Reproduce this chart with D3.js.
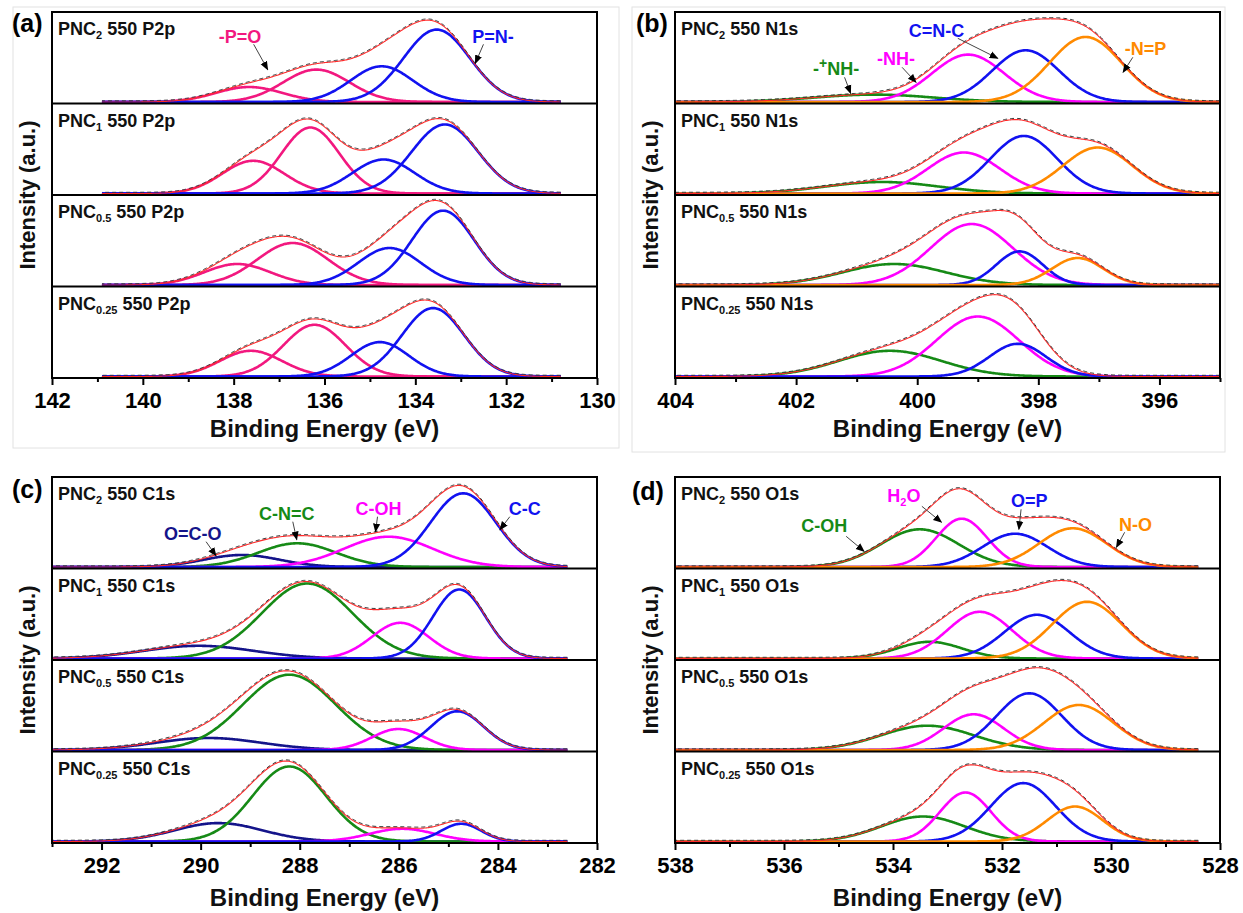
<!DOCTYPE html>
<html>
<head>
<meta charset="utf-8">
<script src="https://cdn.jsdelivr.net/npm/d3@7"></script>
<style>
  body { margin: 0; background: #fff; }
  text { font-family: "Liberation Sans", Arial, sans-serif; font-weight: bold; }
</style>
</head>
<body>
<div class="xps"></div>
<script>
// sample names (subscript part) and core levels
const samples = ["2", "1", "0.5", "0.25"];
const regions = ["P2p", "N1s", "C1s", "O1s"];
const panelTags = ["(a)", "(b)", "(c)", "(d)"];

// energy windows (eV): axis [high, low] and fitted span [start, end]
const axisRanges = [[142, 130], [404, 395], [293, 282], [538, 528]];
const fitSpans = [[140.9, 130.8], [404, 395], [293, 282.6], [538, 528.4]];

// P2p peaks: -P=O, -P=O, P=N-, P=N-   (rows = samples)
const p2pCenters = [[137.66, 136.18, 134.74, 133.53], [137.57, 136.31, 134.70, 133.35], [137.92, 136.70, 134.57, 133.39], [137.62, 136.22, 134.78, 133.61]];
const p2pHeights = [[15, 32.4, 35.7, 72.4], [32.7, 66, 34, 69], [21, 42, 37, 74.3], [25.7, 51.7, 34.4, 68.4]];
const p2pFwhm = [[1.72, 1.72, 1.61, 1.72], [1.61, 1.5, 1.61, 1.72], [1.72, 1.84, 1.61, 1.61], [1.61, 1.61, 1.5, 1.61]];

// N1s peaks: -+NH-, -NH-, C=N-C, -N=P
const n1sCenters = [[400.71, 399.16, 398.21, 397.22], [400.58, 399.23, 398.24, 397.02], [400.38, 399.10, 398.31, 397.35], [400.45, 399.00, 398.34, null]];
const n1sHeights = [[7.4, 47.4, 51.7, 65], [11.5, 41, 57.5, 46], [21, 61, 33.6, 27], [25.7, 60, 32.7, null]];
const n1sFwhm = [[2.3, 1.4, 1.3, 1.4], [2.2, 1.4, 1.3, 1.35], [2.0, 1.6, 0.9, 1.0], [2.0, 1.6, 1.1, null]];

// C1s peaks: O=C-O, C-N=C, C-OH, C-C
const c1sCenters = [[289.17, 288.05, 286.21, 284.70], [290.04, 287.85, 285.97, 284.78], [289.84, 288.21, 286.01, 284.82], [289.64, 288.21, 285.93, 284.74]];
const c1sHeights = [[12, 23.7, 30.3, 73.7], [12.7, 75, 35.7, 69], [12, 75.3, 21, 38.7], [18.4, 75, 12.7, 17.7]];
const c1sFwhm = [[1.8, 1.85, 2.1, 1.55], [2.6, 2.15, 1.35, 1.25], [2.5, 2.2, 1.25, 1.25], [2.1, 1.75, 1.55, 0.95]];

// O1s peaks: C-OH, H2O, O=P, N-O
const o1sCenters = [[533.51, 532.74, 531.76, 530.70], [533.33, 532.41, 531.36, 530.44], [533.37, 532.52, 531.50, 530.59], [533.45, 532.67, 531.61, 530.66]];
const o1sHeights = [[37.7, 48.3, 33.3, 38.7], [16.7, 46.7, 43.7, 56.7], [24.3, 35.7, 56.7, 45], [25, 49, 58.4, 35]];
const o1sFwhm = [[1.68, 1.1, 1.4, 1.46], [1.4, 1.4, 1.4, 1.5], [2.0, 1.3, 1.4, 1.5], [1.8, 1.1, 1.4, 1.2]];

// peak labels on the top sub-plot: [text, textEV, textY, arrowFromEV, arrowFromY, arrowToEV, arrowToY]
const p2pNotes = [["-P=O", 137.86, 58.7, 137.56, 57.7, 137.25, 32.4], ["P=N-", 132.29, 58.7, 132.5, 57.7, 132.68, 38.7]];
const n1sNotes = [["-+NH-", 401.34, 26.7, 401.2, 24.7, 401.1, 8.7], ["-NH-", 400.35, 36.7, 400.25, 34.7, 400.02, 19.7],
                  ["C=N-C", 399.68, 64.7, 399.33, 63.7, 398.67, 43.7], ["-N=P", 396.23, 46.7, 396.44, 44.7, 396.6, 29.7]];
const c1sNotes = [["O=C-O", 290.16, 27.3, 289.89, 25.3, 289.69, 11.3], ["C-N=C", 288.26, 47.3, 288.14, 45.3, 288.06, 27.3],
                  ["C-OH", 286.41, 52.3, 286.43, 50.3, 286.47, 35.3], ["C-C", 283.46, 52.3, 283.76, 50.3, 283.96, 37.3]];
const o1sNotes = [["C-OH", 535.26, 34.7, 534.86, 30.7, 534.53, 15.7], ["H2O", 533.8, 64.7, 533.47, 60.7, 533.11, 44.7],
                  ["O=P", 531.5, 59.7, 531.65, 57.7, 531.69, 37.7], ["N-O", 529.55, 35.7, 529.75, 34.7, 529.9, 19.7]];

const pink = "#f2187f", blue = "#1212f0", magenta = "#ff00ff", orange = "#ff8a00", green = "#168a16", navy = "#14148a";
const panelColors = [[pink, pink, blue, blue], [green, magenta, blue, orange], [navy, green, magenta, blue], [green, magenta, blue, orange]];
const noteColors = [[pink, blue], [green, magenta, blue, orange], [navy, green, magenta, blue], [green, magenta, blue, orange]];

const centers = [p2pCenters, n1sCenters, c1sCenters, o1sCenters];
const heights = [p2pHeights, n1sHeights, c1sHeights, o1sHeights];
const widths = [p2pFwhm, n1sFwhm, c1sFwhm, o1sFwhm];
const notes = [p2pNotes, n1sNotes, c1sNotes, o1sNotes];

// layout of the four panels
const boxes = [
  {x0: 52, x1: 597, y0: 12, y1: 378, tag: [12, 32], ytitle: 35, xtitle: 437},
  {x0: 675, x1: 1220, y0: 12, y1: 378, tag: [636, 32], ytitle: 658, xtitle: 437},
  {x0: 52, x1: 597, y0: 477, y1: 843, tag: [12, 498], ytitle: 35, xtitle: 906},
  {x0: 675, x1: 1220, y0: 477, y1: 843, tag: [632, 500], ytitle: 658, xtitle: 906}
];

const svg = d3.select(".xps").append("svg")
  .attr("width", 1243)
  .attr("height", 913);

svg.append("rect").attr("width", 1243).attr("height", 913).attr("fill", "#fff");

// faint frames around top panels
svg.append("rect").attr("x", 13).attr("y", 7).attr("width", 606).attr("height", 441)
  .attr("fill", "none").attr("stroke", "#e2e2e2");
svg.append("rect").attr("x", 632).attr("y", 7).attr("width", 593).attr("height", 445)
  .attr("fill", "none").attr("stroke", "#e2e2e2");

const defs = svg.append("defs");
defs.append("marker")
  .attr("id", "arr")
  .attr("viewBox", "0 0 10 10")
  .attr("refX", 9).attr("refY", 5)
  .attr("markerWidth", 9).attr("markerHeight", 9)
  .attr("markerUnits", "userSpaceOnUse")
  .attr("orient", "auto")
  .append("path").attr("d", "M0,1 L10,5 L0,9 Z").attr("fill", "#000");

const gauss = (e, c, h, w) => h * Math.exp(-4 * Math.LN2 * (e - c) * (e - c) / (w * w));

boxes.forEach((b, p) => {
  const g = svg.append("g");
  const x = d3.scaleLinear().domain(axisRanges[p]).range([b.x0, b.x1]);
  const sh = (b.y1 - b.y0) / 4;
  const span = fitSpans[p];
  const step = 0.02;
  const es = d3.range(span[1], span[0] + step / 2, step);

  samples.forEach((s, i) => {
    const top = b.y0 + i * sh;
    const y = d3.scaleLinear().domain([0, 90]).range([top + sh - 1.5, top + sh - 91.5]);
    const peaks = centers[p][i].map((c, k) => ({c, h: heights[p][i][k], w: widths[p][i][k], color: panelColors[p][k]}))
      .filter(d => d.c !== null);

    const line = d3.line().x(d => x(d[0])).y(d => y(d[1]));

    peaks.forEach(pk => {
      g.append("path")
        .datum(es.map(e => [e, gauss(e, pk.c, pk.h, pk.w)]))
        .attr("d", line)
        .attr("fill", "none")
        .attr("stroke", pk.color)
        .attr("stroke-width", 2.6);
    });

    const env = es.map(e => [e, d3.sum(peaks, pk => gauss(e, pk.c, pk.h, pk.w))]);
    g.append("path").datum(env).attr("d", line)
      .attr("fill", "none").attr("stroke", "#ff2a2a").attr("stroke-width", 1.1);
    g.append("path").datum(env).attr("d", line)
      .attr("fill", "none").attr("stroke", "#333").attr("stroke-width", 1)
      .attr("stroke-dasharray", "4,3").attr("transform", "translate(0,-1.2)");

    // sample label
    const lab = g.append("text").attr("x", b.x0 + 6).attr("y", top + 23).attr("font-size", 18).attr("fill", "#111");
    lab.append("tspan").text("PNC");
    lab.append("tspan").attr("font-size", 11).attr("dy", 4).text(s);
    lab.append("tspan").attr("dy", -4).text(" 550 " + regions[p]);

    if (i === 0) {
      notes[p].forEach((n, k) => {
        g.append("line")
          .attr("x1", x(n[3])).attr("y1", y(n[4]))
          .attr("x2", x(n[5])).attr("y2", y(n[6]))
          .attr("stroke", "#444").attr("stroke-width", 1)
          .attr("marker-end", "url(#arr)");
        const t = g.append("text").attr("x", x(n[1])).attr("y", y(n[2]))
          .attr("text-anchor", "middle").attr("font-size", 18).attr("fill", noteColors[p][k]);
        if (n[0] === "-+NH-") {
          t.append("tspan").text("-");
          t.append("tspan").attr("font-size", 14).attr("dy", -7).text("+");
          t.append("tspan").attr("dy", 7).text("NH-");
        } else if (n[0] === "H2O") {
          t.append("tspan").text("H");
          t.append("tspan").attr("font-size", 11).attr("dy", 4).text("2");
          t.append("tspan").attr("dy", -4).text("O");
        } else {
          t.text(n[0]);
        }
      });
    }
  });

  // dividers and frame
  for (let i = 1; i < 4; i++) {
    g.append("line").attr("x1", b.x0).attr("x2", b.x1)
      .attr("y1", b.y0 + i * sh).attr("y2", b.y0 + i * sh)
      .attr("stroke", "#000").attr("stroke-width", 2);
  }
  g.append("rect").attr("x", b.x0).attr("y", b.y0)
    .attr("width", b.x1 - b.x0).attr("height", b.y1 - b.y0)
    .attr("fill", "none").attr("stroke", "#000").attr("stroke-width", 2);

  // axes
  const lo = axisRanges[p][1], hi = axisRanges[p][0];
  const all = d3.range(lo, hi + 0.5, 1);
  const xMajor = d3.axisBottom(x).tickValues(all.filter(v => v % 2 === 0))
    .tickSize(7).tickPadding(7).tickFormat(d3.format("d"));
  const xMinor = d3.axisBottom(x).tickValues(all.filter(v => v % 2 !== 0))
    .tickSize(4).tickFormat("");

  const ax = g.append("g").attr("transform", "translate(0," + b.y1 + ")").call(xMajor);
  const axm = g.append("g").attr("transform", "translate(0," + b.y1 + ")").call(xMinor);
  [ax, axm].forEach(a => {
    a.select(".domain").remove();
    a.selectAll("line").attr("stroke", "#000").attr("stroke-width", 2);
  });
  ax.selectAll("text").attr("font-size", 22).attr("fill", "#000")
    .attr("font-family", "'Liberation Sans', Arial, sans-serif").attr("font-weight", "bold");

  g.append("text").attr("x", (b.x0 + b.x1) / 2).attr("y", b.xtitle)
    .attr("text-anchor", "middle").attr("font-size", 24).attr("fill", "#111")
    .text("Binding Energy (eV)");

  g.append("text")
    .attr("transform", "translate(" + b.ytitle + "," + ((b.y0 + b.y1) / 2) + ") rotate(-90)")
    .attr("text-anchor", "middle").attr("font-size", 22).attr("fill", "#111")
    .text("Intensity (a.u.)");

  g.append("text").attr("x", b.tag[0]).attr("y", b.tag[1])
    .attr("font-size", 25).attr("fill", "#000").text(panelTags[p]);
});
</script>
</body>
</html>
